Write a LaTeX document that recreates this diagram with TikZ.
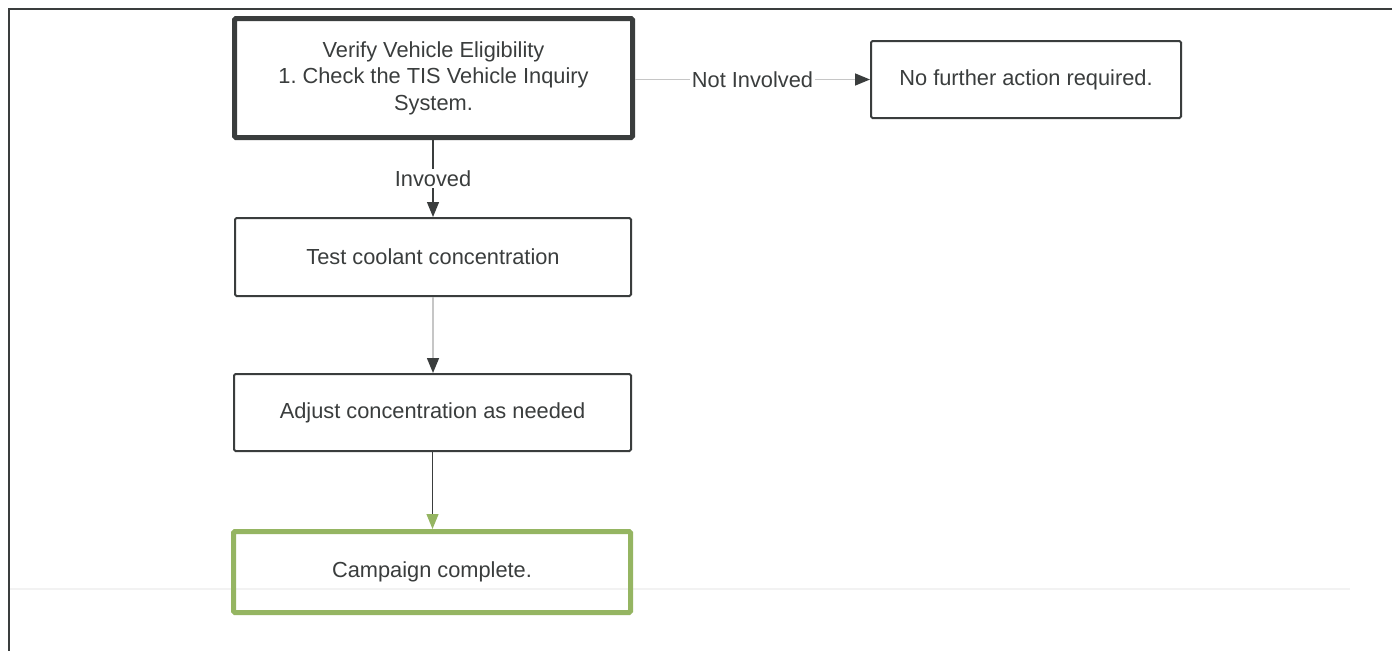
\documentclass[tikz,border=0pt]{standalone}
\usepackage{fontspec}
\setmainfont{Liberation Sans}
\usetikzlibrary{arrows.meta}
\definecolor{dk}{HTML}{3A3D3D}
\definecolor{gr}{HTML}{95B562}
\definecolor{lg}{HTML}{C6C6C6}
\begin{document}
\frenchspacing
\begin{tikzpicture}[x=1pt,y=-1pt,
  box/.style={draw=dk, rectangle, rounded corners=1.5pt, inner sep=0pt, align=center,
    text=dk, font=\fontsize{21.8}{26.5}\selectfont, line width=2pt},
  lbl/.style={fill=white, inner sep=1.5pt, text=dk, font=\fontsize{21.8}{26}\selectfont},
  arrdk/.style={-{Triangle[length=15pt,width=12pt,color=#1]}},
  frame/.style={draw=dk, line width=2pt}]
\useasboundingbox (0,0) rectangle (1396,651);
\fill[white] (0,0) rectangle (1396,651);
% page frame
\draw[frame] (1392,9) -- (9,9) -- (9,651);
% faint scan line
\draw[black!5, line width=1.5pt] (10,589) -- (1350,589);
% nodes
\node[box, line width=5pt, minimum width=398pt, minimum height=119pt] (verify) at (433.5,78)
  {Verify Vehicle Eligibility\\1. Check the TIS Vehicle Inquiry\\System.};
\node[box, minimum width=310pt, minimum height=77pt] (nofurther) at (1026,79.5)
  {No further action required.};
\node[box, minimum width=396pt, minimum height=78pt] (test) at (433,257)
  {Test coolant concentration};
\node[box, minimum width=397pt, minimum height=77pt] (adjust) at (432.5,412.5)
  {Adjust concentration as needed};
\node[box, draw=gr, line width=5pt, minimum width=397pt, minimum height=81pt] (done) at (432,572)
  {Campaign complete.};
% connectors
\draw[lg, line width=1.5pt, arrdk=dk] (verify.east |- nofurther.west) -- node[lbl]{Not Involved} (nofurther.west);
\draw[dk, line width=1.2pt, arrdk=dk] (verify.south -| test.north) -- node[lbl]{Invoved} (test.north);
\draw[lg, line width=1.5pt, arrdk=dk] (test.south) -- (test.south |- adjust.north);
\draw[dk, line width=1.2pt, arrdk=gr] (adjust.south) -- (adjust.south |- done.north);
\end{tikzpicture}
\end{document}
